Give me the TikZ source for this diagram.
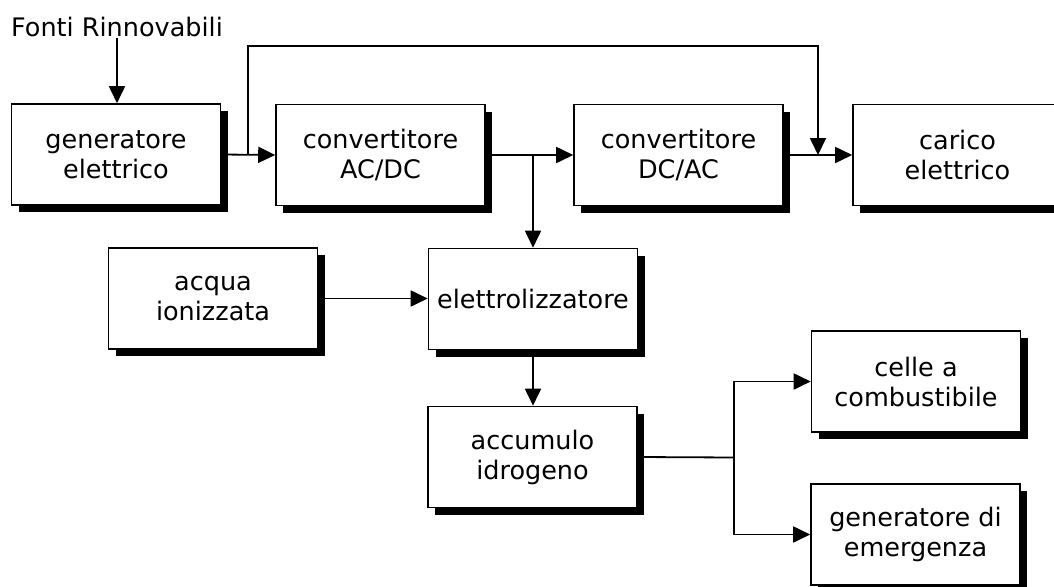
\documentclass[tikz,border=0pt]{standalone}
\usepackage{fontspec}
\setmainfont{DejaVu Sans}
\usetikzlibrary{arrows.meta,shadows}
\begin{document}
\begin{tikzpicture}[x=1pt,y=1pt,
  blk/.style={draw=black, line width=1.6pt, fill=white, minimum width=209pt, minimum height=101pt,
    inner sep=0pt, align=center, font=\fontsize{25.5}{30}\selectfont,
    drop shadow={shadow xshift=7pt, shadow yshift=-7pt, fill=black, opacity=1, draw=none}},
  lbl/.style={inner sep=0pt, font=\fontsize{25.5}{30}\selectfont},
  conn/.style={line width=1.8pt},
  arr/.style={conn, -{Triangle[length=17pt,width=16pt]}}]
\useasboundingbox (0,0) rectangle (1054,-586);
\clip (0,0) rectangle (1054,-586);
\fill[white] (0,0) rectangle (1054,-586);

\node[lbl, anchor=base] (fonti) at (117,-37) {Fonti Rinnovabili};
\node[blk] (gen) at (116,-154.5) {generatore\\elettrico};
\node[blk] (acdc) at (380.5,-155) {convertitore\\AC/DC};
\node[blk] (dcac) at (678.5,-155) {convertitore\\DC/AC};
\node[blk] (carico) at (957.5,-155) {carico\\elettrico};
\node[blk] (acqua) at (213,-298.5) {acqua\\ionizzata};
\node[blk] (elettro) at (533,-299) {elettrolizzatore};
\node[blk] (accumulo) at (532.5,-457) {accumulo\\idrogeno};
\node[blk] (celle) at (916,-381.5) {celle a\\combustibile};
\node[blk] (emerg) at (915.5,-534.5) {generatore di\\emergenza};

\coordinate (j1) at (248,-155);
\coordinate (j2) at (818,-155);
\coordinate (top) at (248,-46);
\coordinate (j3) at (533,-155);
\coordinate (j4) at (734,-457.5);

\draw[arr] (fonti.south) -- (fonti.south |- gen.north);
\draw[arr] (gen.east) -- (acdc.west);
\draw[arr] (j1) -- (top) -| (j2);
\draw[arr] (acdc.east) -- (dcac.west);
\draw[arr] (dcac.east) -- (carico.west);
\draw[arr] (j3) -- (elettro.north);
\draw[arr] (acqua.east) -- (acqua.east -| elettro.west);
\draw[arr] (elettro.south) -- (elettro.south |- accumulo.north);
\draw[conn] (accumulo.east) -- (j4);
\draw[arr] (j4) |- (celle.west);
\draw[arr] (j4) |- (emerg.west);
\end{tikzpicture}
\end{document}
